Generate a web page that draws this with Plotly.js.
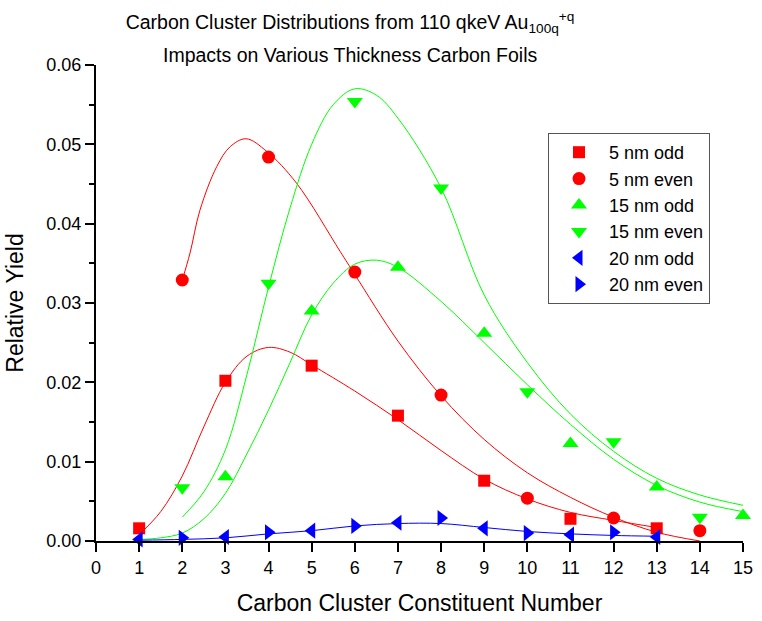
<!DOCTYPE html>
<html>
<head>
<meta charset="utf-8">
<script src="https://cdn.plot.ly/plotly-3.0.1.min.js"></script>
<style>html,body{margin:0;padding:0;background:#fff;}#chart{width:762px;height:621px;}</style>
</head>
<body>
<div id="chart"></div>
<script>
// ---- measured points ----
const nm5OddX = [1, 3, 5, 7, 9, 11, 13];
const nm5OddY = [0.0016, 0.0202, 0.0221, 0.0158, 0.0076, 0.0028, 0.0016];
const nm5EvenX = [2, 4, 6, 8, 10, 12, 14];
const nm5EvenY = [0.0329, 0.0484, 0.0339, 0.0184, 0.0054, 0.0029, 0.0013];
const nm15OddX = [3, 5, 7, 9, 11, 13, 15];
const nm15OddY = [0.0081, 0.0290, 0.0345, 0.0262, 0.0123, 0.0068, 0.0032];
const nm15EvenX = [2, 4, 6, 8, 10, 12, 14];
const nm15EvenY = [0.0067, 0.0325, 0.0554, 0.0445, 0.0188, 0.0125, 0.0030];
const nm20OddX = [1, 3, 5, 7, 9, 11, 13];
const nm20OddY = [0.0002, 0.0005, 0.0013, 0.0023, 0.0016, 0.0008, 0.0005];
const nm20EvenX = [2, 4, 6, 8, 10, 12];
const nm20EvenY = [0.0004, 0.0011, 0.0019, 0.0029, 0.0010, 0.0011];

// ---- fitted curves ----
const fit5OddX = [1, 1.5, 2, 2.5, 3, 3.5, 4, 4.5, 5, 6, 7, 8, 9, 10, 11, 12, 13];
const fit5OddY = [0.0008, 0.0037, 0.0082, 0.0144, 0.0200, 0.0233, 0.0244, 0.0238, 0.0222, 0.0189, 0.0153, 0.0114, 0.0078, 0.0053, 0.0036, 0.0026, 0.0017];
const fit5EvenX = [2, 2.18, 2.41, 2.8, 3.11, 3.48, 3.96, 4.65, 5.66, 6, 7, 8, 9, 10, 11, 12, 13, 14];
const fit5EvenY = [0.0329, 0.0363, 0.0417, 0.0472, 0.0497, 0.0507, 0.0491, 0.0451, 0.0365, 0.0336, 0.0252, 0.0183, 0.0128, 0.0086, 0.0055, 0.0030, 0.0011, 0.0];
const fit15OddX = [1, 1.5, 2, 2.5, 3, 3.5, 4, 4.5, 5, 5.5, 6, 6.5, 7, 8, 9, 10, 11, 12, 13, 14, 15];
const fit15OddY = [0.0002, 0.0004, 0.0010, 0.0028, 0.0060, 0.0110, 0.0165, 0.0225, 0.0285, 0.0325, 0.0349, 0.0354, 0.0345, 0.0302, 0.0250, 0.0197, 0.0147, 0.0103, 0.0070, 0.0049, 0.0037];
const fit15EvenX = [2, 2.5, 3, 3.5, 4, 4.5, 5, 5.5, 6, 6.5, 7, 8, 9, 10, 11, 12, 13, 14, 15];
const fit15EvenY = [0.0030, 0.0062, 0.0115, 0.0210, 0.0320, 0.0420, 0.0500, 0.0550, 0.0570, 0.0562, 0.0533, 0.0445, 0.0310, 0.0225, 0.0160, 0.0113, 0.0079, 0.0058, 0.0045];
const fit20X = [1, 2, 3, 4, 5, 6, 7, 8, 9, 10, 11, 12, 13];
const fit20Y = [0.0001, 0.0002, 0.0004, 0.0009, 0.0013, 0.0019, 0.0022, 0.0022, 0.0017, 0.0012, 0.0009, 0.0007, 0.0006];

const xTicks = [0,1,2,3,4,5,6,7,8,9,10,11,12,13,14,15];
const yTicks = [0, 0.01, 0.02, 0.03, 0.04, 0.05, 0.06];

const RED = '#ff0000', GREEN = '#00ff00', BLUE = '#0000ff';
const FONT = 'Liberation Sans, Arial, sans-serif';

function curve(x, y, color) {
  return {x: x, y: y, type: 'scatter', mode: 'lines', showlegend: false, hoverinfo: 'skip',
    line: {color: color, width: 1, shape: 'spline', smoothing: 1}, cliponaxis: false};
}
function pts(x, y, name, color, symbol, size) {
  return {x: x, y: y, type: 'scatter', mode: 'markers', name: name, cliponaxis: false,
    marker: {color: color, symbol: symbol, size: size, line: {width: 0}}};
}

const data = [
  curve(fit5OddX, fit5OddY, RED),
  curve(fit5EvenX, fit5EvenY, RED),
  curve(fit15OddX, fit15OddY, GREEN),
  curve(fit15EvenX, fit15EvenY, GREEN),
  curve(fit20X, fit20Y, BLUE),
  pts(nm5OddX, nm5OddY, '5 nm odd', RED, 'square', 12),
  pts(nm5EvenX, nm5EvenY, '5 nm even', RED, 'circle', 13),
  pts(nm15OddX, nm15OddY, '15 nm odd', GREEN, 'triangle-up', 14),
  pts(nm15EvenX, nm15EvenY, '15 nm even', GREEN, 'triangle-down', 14),
  pts(nm20OddX, nm20OddY, '20 nm odd', BLUE, 'triangle-left', 14),
  pts(nm20EvenX, nm20EvenY, '20 nm even', BLUE, 'triangle-right', 14)
];

const titleX = (350 - 96) / 647;

const layout = {
  width: 762, height: 621,
  paper_bgcolor: '#ffffff', plot_bgcolor: '#ffffff',
  font: {family: FONT, color: '#000000', size: 18},
  margin: {l: 96, r: 19, t: 65, b: 80, pad: 0},
  title: {
    text: 'Carbon Cluster Distributions from 110 qkeV Au<sub>100q</sub><sup>+q</sup>',
    font: {family: FONT, size: 19.5, color: '#000'},
    x: titleX, xref: 'paper', xanchor: 'center', y: 1 - 22/621, yref: 'container', yanchor: 'middle'
  },
  annotations: [{
    text: 'Impacts on Various Thickness Carbon Foils',
    xref: 'paper', yref: 'paper', x: titleX, y: (541 - 55) / 476,
    xanchor: 'center', yanchor: 'middle', showarrow: false,
    font: {family: FONT, size: 19.5, color: '#000'}
  }],
  xaxis: {
    range: [0, 15], tickmode: 'array', tickvals: xTicks, ticktext: xTicks.map(String),
    ticks: 'outside', ticklen: 9, tickwidth: 2, tickcolor: '#000',
    showline: true, linecolor: '#000', linewidth: 2, showgrid: false, zeroline: false,
    tickfont: {family: FONT, size: 18}, automargin: false,
    title: {text: 'Carbon Cluster Constituent Number', font: {family: FONT, size: 23}, standoff: 18}
  },
  yaxis: {
    range: [0, 0.06], tickmode: 'array', tickvals: yTicks, ticktext: yTicks.map(v => v.toFixed(2)),
    ticks: 'outside', ticklen: 9, tickwidth: 2, tickcolor: '#000',
    minor: {tickmode: 'array', tickvals: [0.005, 0.015, 0.025, 0.035, 0.045, 0.055], ticks: 'outside', ticklen: 5, tickwidth: 2, tickcolor: '#000', showgrid: false},
    showline: true, linecolor: '#000', linewidth: 2, showgrid: false, zeroline: false,
    tickfont: {family: FONT, size: 18}, automargin: false,
    title: {text: 'Relative Yield', font: {family: FONT, size: 23}, standoff: 16}
  },
  legend: {
    x: (548 - 96) / 647, y: (541 - 133) / 476, xanchor: 'left', yanchor: 'top',
    bgcolor: '#ffffff', bordercolor: '#555555', borderwidth: 1,
    font: {family: FONT, size: 18, color: '#000'}, itemwidth: 50, tracegroupgap: 0
  },
  showlegend: true
};

Plotly.newPlot('chart', data, layout, {staticPlot: true, displayModeBar: false});
</script>
</body>
</html>
